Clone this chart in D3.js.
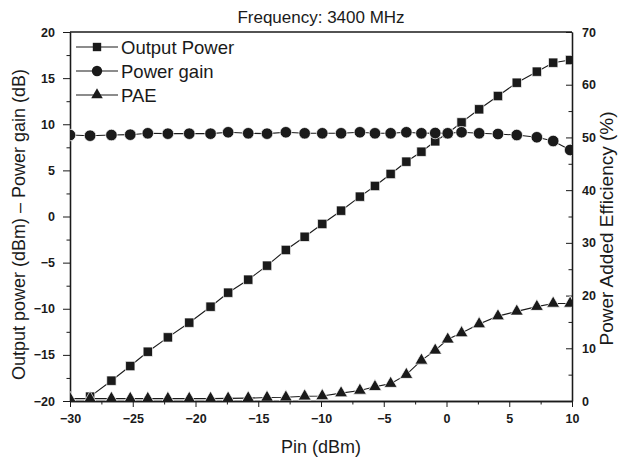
<!DOCTYPE html>
<html>
<head>
<meta charset="utf-8">
<script src="https://cdn.jsdelivr.net/npm/d3@7"></script>
<style>
  body { margin: 0; background: #fff; }
  svg { font-family: "Liberation Sans", Arial, sans-serif; }
</style>
</head>
<body>
<svg id="chart" width="620" height="457"></svg>
<script>
// values
var pin = [-30, -28.4, -26.7, -25.2, -23.8, -22.2, -20.5, -18.8, -17.4, -15.8, -14.3, -12.8, -11.3, -9.9,
           -8.4, -6.9, -5.7, -4.45, -3.2, -2.0, -0.9, 0.1, 1.2, 2.6, 4.1, 5.6, 7.2, 8.5, 9.85];
var outputPower = [null, -19.53, -17.8, -16.21, -14.66, -13.1, -11.51, -9.78, -8.26, -6.85, -5.33, -3.63, -2.2, -0.81,
                   0.63, 2.15, 3.31, 4.61, 5.94, 7.02, 8.15, 9.02, 10.2, 11.62, 13.06, 14.5, 15.7, 16.67, 16.96];
var powerGain = [8.83, 8.76, 8.83, 8.87, 9.02, 8.98, 8.98, 8.98, 9.13, 9.02, 8.98, 9.13, 9.02, 9.02,
                 9.02, 9.13, 9.02, 9.02, 9.13, 9.02, 9.05, 9.02, 9.13, 9.02, 8.94, 8.83, 8.59, 8.18, 7.21];
var pae = [0.45, 0.45, 0.45, 0.45, 0.45, 0.45, 0.45, 0.45, 0.5, 0.55, 0.65, 0.7, 0.9, 0.95,
           1.5, 2.0, 2.7, 3.3, 5.0, 7.7, 9.6, 11.7, 12.9, 14.6, 16.1, 17.0, 17.9, 18.5, 18.5];

var xTicks = [-30, -25, -20, -15, -10, -5, 0, 5, 10];
var yLeftTicks = [-20, -15, -10, -5, 0, 5, 10, 15, 20];
var yRightTicks = [0, 10, 20, 30, 40, 50, 60, 70];

var legendNames = ["Output Power", "Power gain", "PAE"];

var svg = d3.select("#chart"),
    margin = {top: 32, right: 48, bottom: 56, left: 70},
    width = 620 - margin.left - margin.right,
    height = 457 - margin.top - margin.bottom,
    ink = "#1a1a1a";

var x = d3.scaleLinear().domain([-30, 10]).range([0, width]);
var yL = d3.scaleLinear().domain([-20, 20]).range([height, 0]);
var yR = d3.scaleLinear().domain([0, 70]).range([height, 0]);

var g = svg.append("g").attr("transform", "translate(" + margin.left + "," + margin.top + ")");

g.append("defs").append("clipPath").attr("id", "clip")
    .append("rect").attr("width", width).attr("height", height);

// minor ticks first, then major
function minor(axis) {
    return axis.tickFormat("").tickSizeOuter(0);
}
g.append("g").attr("class", "ax").attr("transform", "translate(0," + height + ")")
    .call(minor(d3.axisBottom(x).tickValues(d3.range(-27.5, 10, 5)).tickSize(3.5)));
g.append("g").attr("class", "ax")
    .call(minor(d3.axisLeft(yL).tickValues(d3.range(-17.5, 20, 5)).tickSize(3.5)));
g.append("g").attr("class", "ax").attr("transform", "translate(" + width + ",0)")
    .call(minor(d3.axisRight(yR).tickValues(d3.range(5, 70, 10)).tickSize(-3.5)));

g.append("g").attr("class", "ax").attr("transform", "translate(0," + height + ")")
    .call(d3.axisBottom(x).tickValues(xTicks).tickSize(6).tickPadding(7).tickSizeOuter(0));
g.append("g").attr("class", "ax")
    .call(d3.axisLeft(yL).tickValues(yLeftTicks).tickSize(7).tickPadding(8).tickSizeOuter(0));
var rAx = g.append("g").attr("class", "ax").attr("transform", "translate(" + width + ",0)")
    .call(d3.axisRight(yR).tickValues(yRightTicks).tickSize(-6).tickSizeOuter(0));
rAx.selectAll("text").attr("x", 10);

g.selectAll(".ax path").attr("stroke", ink).attr("stroke-width", 1.3);
g.selectAll(".ax line").attr("stroke", ink).attr("stroke-width", 1);
g.selectAll(".ax text").attr("fill", ink).style("font-size", "12.5px").style("font-weight", "bold");

// frame top
g.append("line").attr("x1", 0).attr("x2", width).attr("y1", 0).attr("y2", 0)
    .attr("stroke", ink).attr("stroke-width", 1.5);

// series
var series = [
    {name: legendNames[0], vals: outputPower, y: yL, sym: d3.symbolSquare, size: 88},
    {name: legendNames[1], vals: powerGain, y: yL, sym: d3.symbolCircle, size: 105},
    {name: legendNames[2], vals: pae, y: yR, sym: d3.symbolTriangle, size: 72}
];

var plot = g.append("g").attr("clip-path", "url(#clip)");

series.forEach(function(s) {
    var pts = pin.map(function(p, i) { return {x: p, v: s.vals[i]}; })
        .filter(function(d) { return d.v !== null; });
    var line = d3.line()
        .x(function(d) { return x(d.x); })
        .y(function(d) { return s.y(d.v); });
    plot.append("path").datum(pts)
        .attr("fill", "none").attr("stroke", ink).attr("stroke-width", 1.1)
        .attr("d", line);
    plot.selectAll(null).data(pts).enter().append("path")
        .attr("transform", function(d) { return "translate(" + x(d.x) + "," + s.y(d.v) + ")"; })
        .attr("d", d3.symbol().type(s.sym).size(s.size))
        .attr("fill", ink).attr("stroke", "#fff").attr("stroke-width", 0.7);
});

// legend
var leg = g.append("g").attr("transform", "translate(6,15)");
series.forEach(function(s, i) {
    var row = leg.append("g").attr("transform", "translate(0," + (i * 24) + ")");
    row.append("line").attr("x1", 0).attr("x2", 42).attr("stroke", ink).attr("stroke-width", 1.1);
    row.append("path").attr("transform", "translate(21,0)")
        .attr("d", d3.symbol().type(s.sym).size(s.size * 0.8)).attr("fill", ink);
    row.append("text").attr("x", 45).attr("dy", "0.36em")
        .style("font-size", "18.5px").attr("fill", ink).text(s.name);
});

// titles
svg.append("text").attr("x", margin.left + width / 2).attr("y", 23)
    .attr("text-anchor", "middle").style("font-size", "17px").attr("fill", ink)
    .text("Frequency: 3400 MHz");
svg.append("text").attr("x", margin.left + width / 2).attr("y", 453)
    .attr("text-anchor", "middle").style("font-size", "18px").attr("fill", ink)
    .text("Pin (dBm)");
svg.append("text")
    .attr("transform", "translate(25," + (margin.top + height / 2 + 8) + ") rotate(-90)")
    .attr("text-anchor", "middle").style("font-size", "18px").attr("fill", ink)
    .text("Output power (dBm) \u2013 Power gain (dB)");
svg.append("text")
    .attr("transform", "translate(613," + (margin.top + height / 2 + 12) + ") rotate(-90)")
    .attr("text-anchor", "middle").style("font-size", "19px").attr("fill", ink)
    .text("Power Added Efficiency (%)");
</script>
</body>
</html>
